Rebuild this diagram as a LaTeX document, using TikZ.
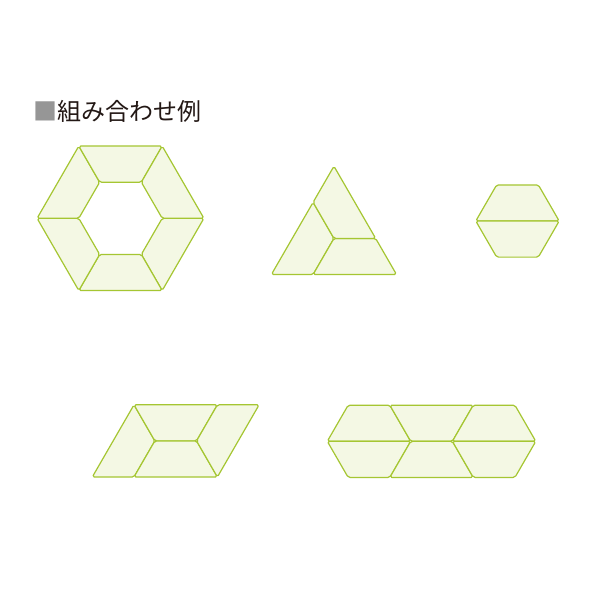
\documentclass[tikz,border=0pt]{standalone}
\usepackage{fontspec}
\newfontfamily\jpfont{Noto Sans CJK JP}
\definecolor{pieceline}{RGB}{165,198,50}
\definecolor{piecefill}{RGB}{244,248,228}
\definecolor{titlegray}{RGB}{150,150,150}
\definecolor{titletext}{RGB}{35,24,21}
\tikzset{
  piece/.style={draw=pieceline, fill=piecefill, line width=1.2pt, rounded corners=1.8pt, line join=round},
  title/.style={anchor=base west, inner sep=0pt, text=titletext, font=\jpfont\fontsize{24}{24}\selectfont}
}

\begin{document}
\begin{tikzpicture}[x=1pt,y=-1pt]
    \fill[white] (0,0) rectangle (600,600);
    \useasboundingbox (0,0) rectangle (600,600);

    \node[title] (title) at (33,120) {\textcolor{titlegray}{■}組み合わせ例};

    % ring of six
    \foreach \k in {0,...,5}
        \draw[piece, shift={(120.5,218.3)}] ({60*\k}:83.4) -- ({60*\k+60}:83.4) -- ({60*\k+60}:41.7) -- ({60*\k}:41.7) -- cycle;

    % triangle
    \draw[piece] (271.4,274.5) -- (313.1,274.5) -- (333.95,238.4) -- (313.1,202.3) -- cycle;
    \draw[piece] (313.1,274.5) -- (396.5,274.5) -- (375.65,238.4) -- (333.95,238.4) -- cycle;
    \draw[piece] (333.95,166.2) -- (375.65,238.4) -- (333.95,238.4) -- (313.1,202.3) -- cycle;

    % small hexagon
    \draw[piece] (475.8,221) -- (496.65,184.9) -- (538.35,184.9) -- (559.2,221) -- cycle;
    \draw[piece] (475.8,221) -- (496.65,257.1) -- (538.35,257.1) -- (559.2,221) -- cycle;

    % parallelogram
    \draw[piece] (92.3,477) -- (134,477) -- (154.85,440.9) -- (134,404.8) -- cycle;
    \draw[piece] (134,404.8) -- (217.4,404.8) -- (196.55,440.9) -- (154.85,440.9) -- cycle;
    \draw[piece] (134,477) -- (217.4,477) -- (196.55,440.9) -- (154.85,440.9) -- cycle;
    \draw[piece] (196.55,440.9) -- (217.4,404.8) -- (259.1,404.8) -- (217.4,477) -- cycle;

    % long hexagon
    \draw[piece] (327.3,441.3) -- (348.15,405.2) -- (389.85,405.2) -- (410.7,441.3) -- cycle;
    \draw[piece] (327.3,441.3) -- (348.15,477.4) -- (389.85,477.4) -- (410.7,441.3) -- cycle;
    \draw[piece] (389.85,405.2) -- (473.25,405.2) -- (452.4,441.3) -- (410.7,441.3) -- cycle;
    \draw[piece] (389.85,477.4) -- (473.25,477.4) -- (452.4,441.3) -- (410.7,441.3) -- cycle;
    \draw[piece] (452.4,441.3) -- (473.25,405.2) -- (514.95,405.2) -- (535.8,441.3) -- cycle;
    \draw[piece] (452.4,441.3) -- (473.25,477.4) -- (514.95,477.4) -- (535.8,441.3) -- cycle;

\end{tikzpicture}
\end{document}
